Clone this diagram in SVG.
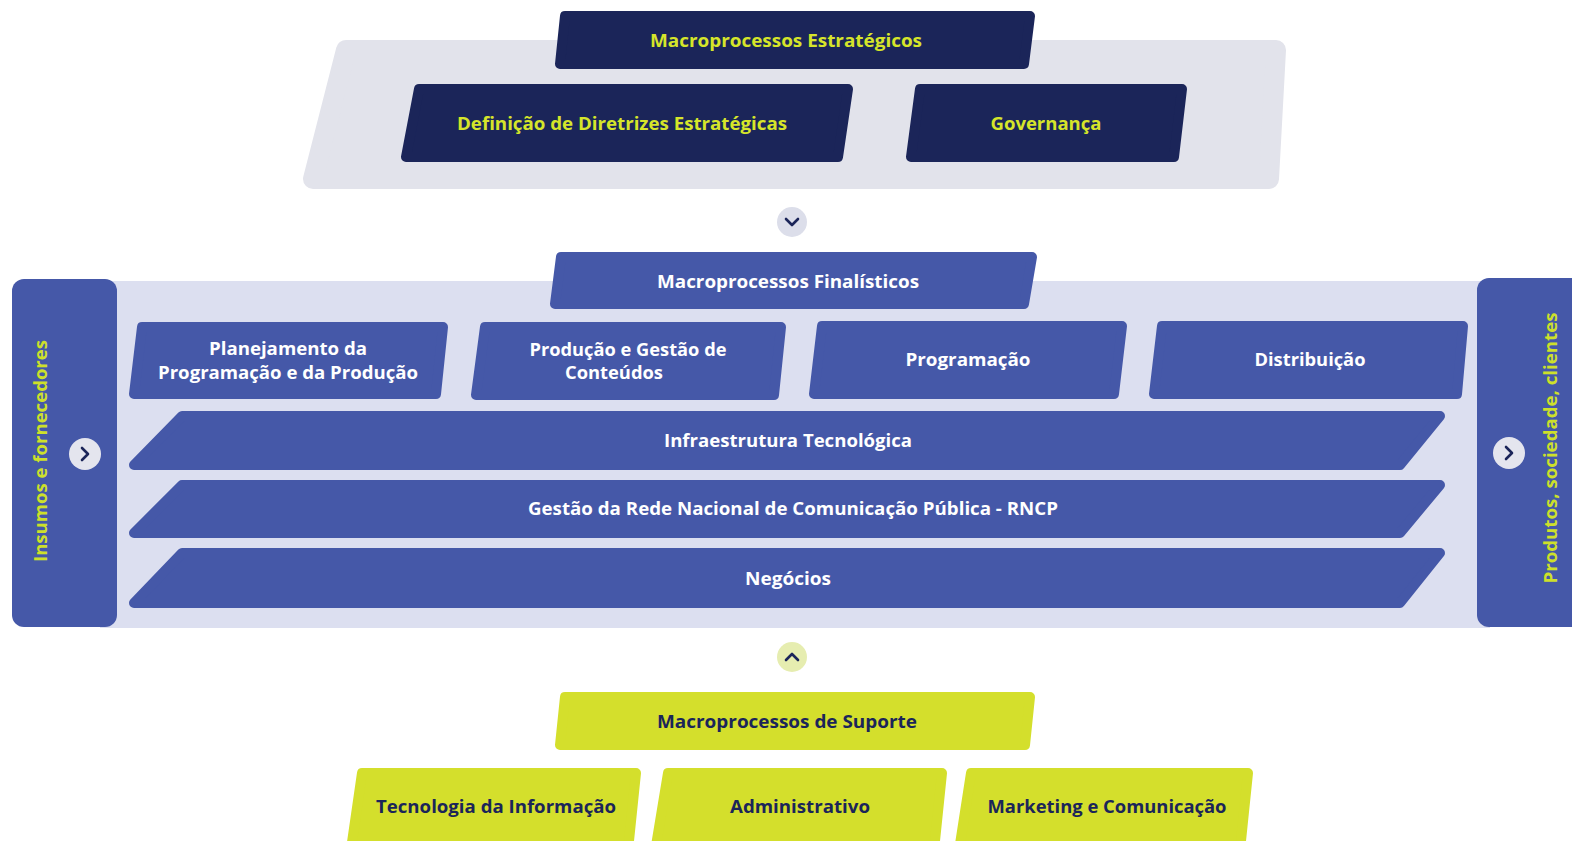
<svg xmlns="http://www.w3.org/2000/svg" width="1572" height="841" viewBox="0 0 1572 841">
<style>
.navy{fill:#1b2559;stroke:#1b2559;stroke-width:10;stroke-linejoin:round}
.blue{fill:#4558a8;stroke:#4558a8;stroke-width:10;stroke-linejoin:round}
.lime{fill:#d4df2c;stroke:#d4df2c;stroke-width:10;stroke-linejoin:round}
.gpanel{fill:#e2e3eb;stroke:#e2e3eb;stroke-width:20;stroke-linejoin:round}
.t{font-family:"Open Sans","Liberation Sans",sans-serif;font-weight:700;font-size:18px;text-anchor:middle;dominant-baseline:central}
.ty{fill:#d6e52a}
.tw{fill:#ffffff}
.tn{fill:#1b2559}
.side{font-family:"Open Sans","Liberation Sans",sans-serif;font-weight:700;font-size:17px;fill:#cde02a;text-anchor:middle;dominant-baseline:central}
.chev{fill:none;stroke:#1b2559;stroke-width:2.6;stroke-linecap:round;stroke-linejoin:round}
</style>
<rect width="1572" height="841" fill="#ffffff"/>

<g id="strategic-panel">
<polygon class="gpanel" points="346,50 1276,50 1269,179 313,179"/>
</g>
<g id="macro-estrategicos">
<polygon class="navy" points="565,16 1030,16 1024,64 560,64"/>
<text class="t ty" x="786" y="40" textLength="272" lengthAdjust="spacingAndGlyphs">Macroprocessos Estratégicos</text>
</g>
<g id="definicao">
<polygon class="navy" points="419,89 848,89 838,157 406,157"/>
<text class="t ty" x="622" y="123" textLength="330" lengthAdjust="spacingAndGlyphs">Definição de Diretrizes Estratégicas</text>
</g>
<g id="governanca">
<polygon class="navy" points="920,89 1182,89 1174,157 911,157"/>
<text class="t ty" x="1046" y="123" textLength="111" lengthAdjust="spacingAndGlyphs">Governança</text>
</g>

<g id="finalistic-panel">
<rect x="100" y="281" width="1390" height="347" fill="#dcdff0"/>
</g>
<g id="insumos">
<rect x="12" y="279" width="105" height="348" rx="12" fill="#4558a8"/>
<text class="side" transform="translate(40,451) rotate(-90)" textLength="222" lengthAdjust="spacingAndGlyphs">Insumos e fornecedores</text>
<circle cx="85" cy="454" r="16" fill="#e4e5ee"/>
<polyline class="chev" points="82,448 88,454 82,460"/>
</g>
<g id="produtos">
<rect x="1477" y="278" width="110" height="349" rx="12" fill="#4558a8"/>
<text class="side" transform="translate(1550,448) rotate(-90)" textLength="271" lengthAdjust="spacingAndGlyphs">Produtos, sociedade, clientes</text>
<circle cx="1509" cy="453" r="16" fill="#e4e5ee"/>
<polyline class="chev" points="1506,447 1512,453 1506,459"/>
</g>
<g id="macro-finalisticos">
<polygon class="blue" points="561,257 1032,257 1024,304 555,304"/>
<text class="t tw" x="788" y="281" textLength="262" lengthAdjust="spacingAndGlyphs">Macroprocessos Finalísticos</text>
</g>
<g id="planejamento">
<polygon class="blue" points="142,327 443,327 436,394 134,394"/>
<text class="t tw" x="288" y="348" textLength="158" lengthAdjust="spacingAndGlyphs">Planejamento da</text>
<text class="t tw" x="288" y="372" textLength="260" lengthAdjust="spacingAndGlyphs">Programação e da Produção</text>
</g>
<g id="producao">
<polygon class="blue" points="485,327 781,327 774,395 476,395"/>
<text class="t tw" x="628" y="349" textLength="197" lengthAdjust="spacingAndGlyphs">Produção e Gestão de</text>
<text class="t tw" x="614" y="372" textLength="98" lengthAdjust="spacingAndGlyphs">Conteúdos</text>
</g>
<g id="programacao">
<polygon class="blue" points="822,326 1122,326 1114,394 814,394"/>
<text class="t tw" x="968" y="359" textLength="125" lengthAdjust="spacingAndGlyphs">Programação</text>
</g>
<g id="distribuicao">
<polygon class="blue" points="1162,326 1463,326 1457,394 1154,394"/>
<text class="t tw" x="1310" y="359" textLength="111" lengthAdjust="spacingAndGlyphs">Distribuição</text>
</g>
<g id="infraestrutura">
<polygon class="blue" points="182,416 1440,416 1400,465 134,465"/>
<text class="t tw" x="788" y="440" textLength="248" lengthAdjust="spacingAndGlyphs">Infraestrutura Tecnológica</text>
</g>
<g id="rncp">
<polygon class="blue" points="182,485 1440,485 1400,533 134,533"/>
<text class="t tw" x="793" y="508" textLength="530" lengthAdjust="spacingAndGlyphs">Gestão da Rede Nacional de Comunicação Pública - RNCP</text>
</g>
<g id="negocios">
<polygon class="blue" points="182,553 1440,553 1400,603 134,603"/>
<text class="t tw" x="788" y="578" textLength="86" lengthAdjust="spacingAndGlyphs">Negócios</text>
</g>

<g id="macro-suporte">
<polygon class="lime" points="565,697 1030,697 1025,745 560,745"/>
<text class="t tn" x="787" y="721" textLength="260" lengthAdjust="spacingAndGlyphs">Macroprocessos de Suporte</text>
</g>
<g id="tecnologia">
<polygon class="lime" points="362,773 636,773 626,870 348,870"/>
<text class="t tn" x="496" y="806" textLength="240" lengthAdjust="spacingAndGlyphs">Tecnologia da Informação</text>
</g>
<g id="administrativo">
<polygon class="lime" points="668,773 942,773 932,870 652,870"/>
<text class="t tn" x="800" y="806" textLength="140" lengthAdjust="spacingAndGlyphs">Administrativo</text>
</g>
<g id="marketing">
<polygon class="lime" points="971,773 1248,773 1238,870 956,870"/>
<text class="t tn" x="1107" y="806" textLength="239" lengthAdjust="spacingAndGlyphs">Marketing e Comunicação</text>
</g>

<g id="connectors">
<circle cx="792" cy="222" r="15" fill="#dcdeea"/>
<polyline class="chev" points="786,219 792,225 798,219"/>
<circle cx="792" cy="657" r="15" fill="#e6edb0"/>
<polyline class="chev" points="786,660 792,654 798,660"/>
</g>
</svg>
